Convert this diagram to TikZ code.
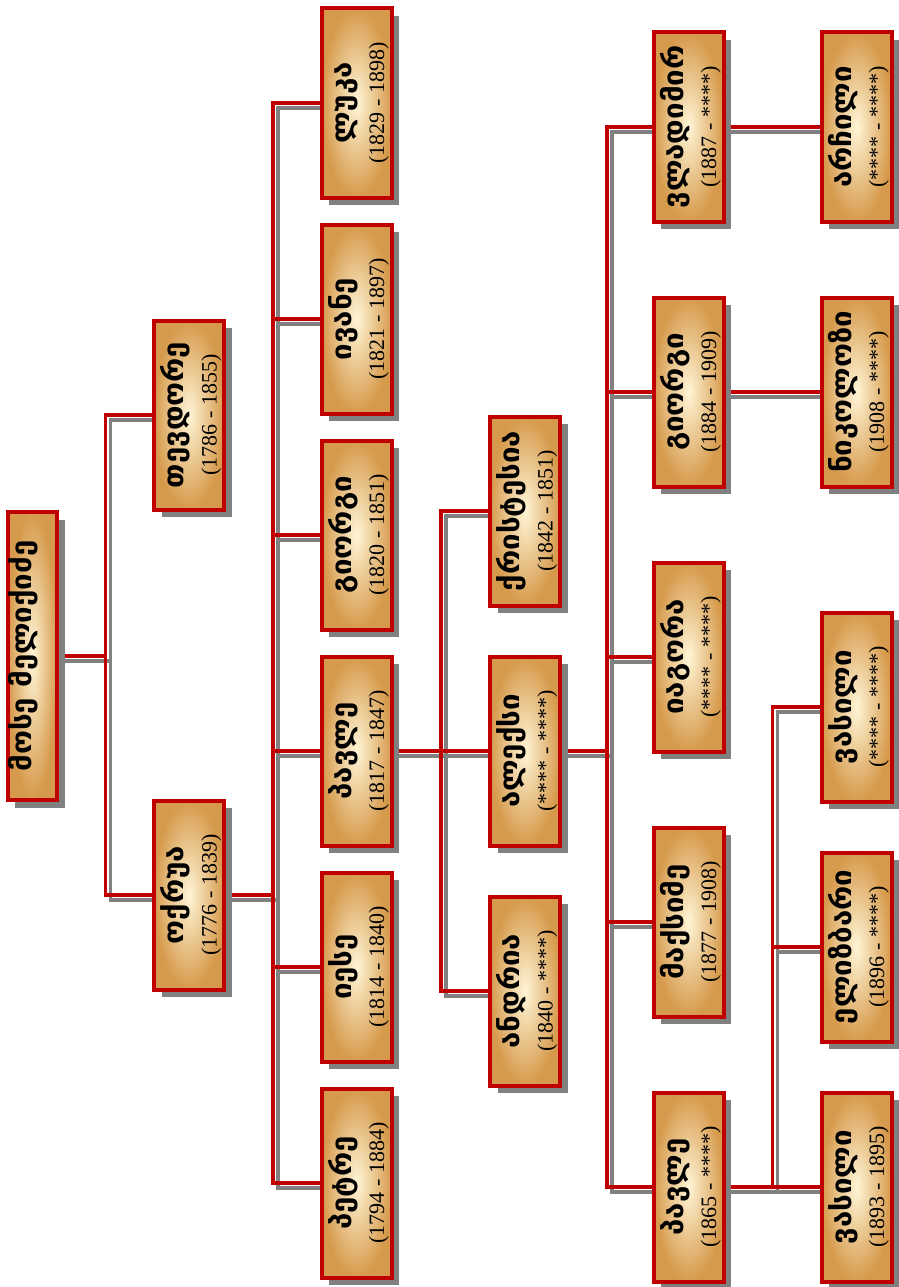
\documentclass[tikz,border=0pt]{standalone}
\usepackage{fontspec}
\setmainfont{Liberation Serif}
\newfontfamily\geofont[FakeStretch=1.05]{DejaVu Sans}
\usepackage{graphicx}
\usepackage{xcolor}
\definecolor{cLine}{HTML}{C00000}
\definecolor{cShade}{HTML}{808080}
\definecolor{cPaperIn}{HTML}{FFF5D6}
\definecolor{cPaperOut}{HTML}{D69A4C}
\usepackage{tikz}
\usetikzlibrary{calc,shadows,backgrounds}
\newcommand{\kin}[2]{\rotatebox{90}{\renewcommand{\arraystretch}{0}%
  \begin{tabular}{@{}c@{}}%
  \rule[-15pt]{0pt}{42pt}{\geofont\bfseries\fontsize{28}{33}\selectfont #1}\\
  \rule[-3pt]{0pt}{21pt}{\fontsize{22}{24}\selectfont #2}\end{tabular}}}
\newcommand{\kinname}[1]{\rotatebox{90}{\rule[-26pt]{0pt}{47pt}%
  \geofont\bfseries\fontsize{28}{33}\selectfont #1}}
\tikzset{
  node-kin/.style={draw=cLine,line width=4pt,inner color=cPaperIn,outer color=cPaperOut,
    minimum width=70pt,minimum height=189pt,inner sep=0pt,
    drop shadow={shadow xshift=7.5pt,shadow yshift=-7.5pt,fill=cShade,opacity=1}},
  node-root/.style={node-kin,minimum width=47pt,minimum height=288pt},
  link/.style={draw=cLine,line width=3.8pt},
  link-shadow/.style={draw=cShade,line width=3.8pt,transform canvas={xshift=5pt,yshift=-5pt}},
}

\begin{document}
\begin{tikzpicture}[x=1pt,y=-1pt]
  \useasboundingbox (0,0) rectangle (898,1287);
  % 1-2
  \node[node-root] (root) at (32.5,656) {\kinname{მოსე მელიქიძე}};
  \node[node-kin] (tev) at (189,415) {\kin{თევდორე}{(1786 - 1855)}};
  \node[node-kin] (okr) at (189,895) {\kin{ოქრუა}{(1776 - 1839)}};

  % 3
  \node[node-kin] (luka) at (356.5,103) {\kin{ლუკა}{(1829 - 1898)}};
  \node[node-kin] (ivan) at (356.5,319) {\kin{ივანე}{(1821 - 1897)}};
  \node[node-kin] (gio) at (356.5,535) {\kin{გიორგი}{(1820 - 1851)}};
  \node[node-kin] (pav) at (356.5,751) {\kin{პავლე}{(1817 - 1847)}};
  \node[node-kin] (iese) at (356.5,967) {\kin{იესე}{(1814 - 1840)}};
  \node[node-kin] (pet) at (356.5,1183) {\kin{პეტრე}{(1794 - 1884)}};

  % 4
  \node[node-kin] (kri) at (525,511) {\kin{ქრისტესია}{(1842 - 1851)}};
  \node[node-kin] (ale) at (525,751) {\kin{ალექსი}{(**** - ****)}};
  \node[node-kin] (andr) at (525,991) {\kin{ანდრია}{(1840 - ****)}};

  % 5
  \node[node-kin] (vla) at (688.5,127) {\kin{ვლადიმირ}{(1887 - ****)}};
  \node[node-kin] (gio2) at (688.5,392) {\kin{გიორგი}{(1884 - 1909)}};
  \node[node-kin] (iag) at (688.5,657) {\kin{იაგორა}{(**** - ****)}};
  \node[node-kin] (mak) at (688.5,922) {\kin{მაქსიმე}{(1877 - 1908)}};
  \node[node-kin] (pav2) at (688.5,1187) {\kin{პავლე}{(1865 - ****)}};

  % 6
  \node[node-kin] (arch) at (856.5,127) {\kin{არჩილი}{(**** - ****)}};
  \node[node-kin] (nik) at (856.5,392) {\kin{ნიკოლოზი}{(1908 - ****)}};
  \node[node-kin] (vas1) at (856.5,707) {\kin{ვასილი}{(**** - ****)}};
  \node[node-kin] (eli) at (856.5,947) {\kin{ელიზბარი}{(1896 - ****)}};
  \node[node-kin] (vas2) at (856.5,1187) {\kin{ვასილი}{(1893 - 1895)}};

  \begin{scope}[on background layer]
    \foreach \s in {link-shadow,link}
      \foreach \p/\c in {root/tev,root/okr,okr/luka,okr/ivan,okr/gio,okr/pav,okr/iese,okr/pet,
        pav/kri,pav/ale,pav/andr,ale/vla,ale/gio2,ale/iag,ale/mak,ale/pav2,
        vla/arch,gio2/nik,pav2/vas1,pav2/eli,pav2/vas2}
        \draw[\s] (\p.east) -| ($(\p.east)!.5!(\c.west)$) |- (\c.west);
  \end{scope}
\end{tikzpicture}
\end{document}
